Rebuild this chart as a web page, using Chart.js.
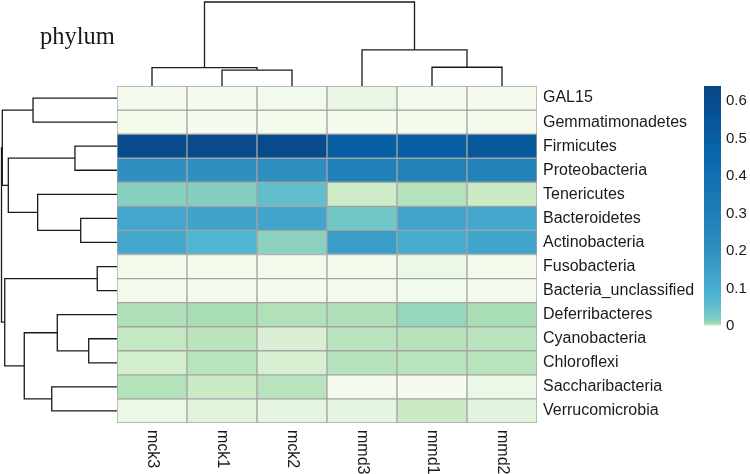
<!DOCTYPE html>
<html><head><meta charset="utf-8">
<script src="https://cdn.jsdelivr.net/npm/chart.js@4/dist/chart.umd.min.js"></script>
<style>
html,body{margin:0;padding:0;background:#fff;}
#wrap{position:relative;width:750px;height:474px;}
canvas{position:absolute;left:0;top:0;}
</style></head><body>
<div id="wrap"><canvas id="main" width="750" height="474"></canvas><canvas id="legend" width="750" height="474"></canvas></div>
<script>
// ---------- data ----------
const titleText = 'phylum';
const columns = ['mck3', 'mck1', 'mck2', 'mmd3', 'mmd1', 'mmd2'];
const rows = ['GAL15', 'Gemmatimonadetes', 'Firmicutes', 'Proteobacteria', 'Tenericutes',
  'Bacteroidetes', 'Actinobacteria', 'Fusobacteria', 'Bacteria_unclassified', 'Deferribacteres',
  'Cyanobacteria', 'Chloroflexi', 'Saccharibacteria', 'Verrucomicrobia'];

// relative abundance per sample (row order as above)
const mck3 = [0.0001, 0.0001, 0.600, 0.210, 0.016, 0.123, 0.120, 0.0001, 0.0001, 0.0043, 0.0027, 0.0016, 0.0040, 0.0004];
const mck1 = [0.0001, 0.00005, 0.610, 0.210, 0.017, 0.137, 0.078, 0.0001, 0.0001, 0.0050, 0.0033, 0.0037, 0.0020, 0.0008];
const mck2 = [0.0002, 0.0001, 0.600, 0.212, 0.053, 0.130, 0.015, 0.0002, 0.0001, 0.0042, 0.0012, 0.0013, 0.0037, 0.0006];
const mmd3 = [0.0005, 0.0001, 0.490, 0.290, 0.0018, 0.032, 0.160, 0.0002, 0.0001, 0.0043, 0.0037, 0.0039, 0.0001, 0.0006];
const mmd1 = [0.0001, 0.0001, 0.500, 0.280, 0.0040, 0.135, 0.105, 0.0004, 0.0002, 0.0110, 0.0039, 0.0037, 0.00005, 0.0022];
const mmd2 = [0.0001, 0.0001, 0.530, 0.280, 0.0020, 0.120, 0.135, 0.0001, 0.0001, 0.0050, 0.0037, 0.0037, 0.0004, 0.0007];

// column dendrogram (hclust style: negative = leaf, positive = earlier merge)
const colMergeA = [-2, -1, -5, -4, 2];
const colMergeB = [-3, 1, -6, 3, 4];
const colMergeH = [0.190, 0.218, 0.223, 0.429, 1.0];

// row dendrogram
const rowMergeA = [-8, -11, -6, -3, -10, -13, -5, -1, 5, 4, 1, 8, 12];
const rowMergeB = [-9, -12, -7, -4, 2, -14, 3, -2, 6, 7, 9, 10, 11];
const rowMergeH = [0.171, 0.245, 0.314, 0.364, 0.517, 0.565, 0.687, 0.727, 0.803, 0.941, 0.972, 0.993, 1.0];

// colour legend
const legendMax = 0.64;
const legendTicks = [0, 0.1, 0.2, 0.3, 0.4, 0.5, 0.6];

// colour map (value stops -> colours)
const cmapValues = [0, 0.0008, 0.002, 0.005, 0.02, 0.08, 0.22, 0.45, 0.66];
const cmapColors = ['#f7fcf0', '#e0f3db', '#ccebc5', '#a8ddb5', '#7bccc4', '#4eb3d3', '#2b8cbe', '#0868ac', '#084081'];

// ---------- helpers ----------
const sampleCols = [mck3, mck1, mck2, mmd3, mmd1, mmd2];
function hexToRgb(h) { return [1, 3, 5].map(i => parseInt(h.substr(i, 2), 16)); }
const cmapRgb = cmapColors.map(hexToRgb);
function colorFor(v) {
  if (v <= cmapValues[0]) return cmapColors[0];
  for (let k = 1; k < cmapValues.length; k++) {
    if (v <= cmapValues[k]) {
      const t = (v - cmapValues[k - 1]) / (cmapValues[k] - cmapValues[k - 1]);
      const a = cmapRgb[k - 1], b = cmapRgb[k];
      const c = a.map((x, i) => Math.round(x + (b[i] - x) * t));
      return `rgb(${c[0]},${c[1]},${c[2]})`;
    }
  }
  return cmapColors[cmapColors.length - 1];
}

function dendroSegments(A, B, H) {
  const pos = [], hgt = [];
  const nodePos = n => n < 0 ? (-n - 1) + 0.5 : pos[n - 1];
  const nodeH = n => n < 0 ? 0 : hgt[n - 1];
  const segs = [];
  for (let i = 0; i < A.length; i++) {
    const pa = nodePos(A[i]), pb = nodePos(B[i]);
    segs.push([[pa, nodeH(A[i])], [pa, H[i]], [pb, H[i]], [pb, nodeH(B[i])]]);
    pos.push((pa + pb) / 2);
    hgt.push(H[i]);
  }
  return segs;
}

const lineStyle = {
  type: 'line', borderColor: '#1a1a1a', borderWidth: 1.3, pointRadius: 0, fill: false,
  tension: 0, clip: false, borderJoinStyle: 'miter'
};

const datasets = [];
rows.forEach((r, i) => {
  datasets.push({
    type: 'bar', label: r, xAxisID: 'x', yAxisID: 'y',
    data: columns.map(() => [i, i + 1]),
    backgroundColor: columns.map((c, j) => colorFor(sampleCols[j][i])),
    borderColor: '#a4a4a4', borderWidth: 1, borderSkipped: false,
    grouped: false, barPercentage: 1, categoryPercentage: 1
  });
});
dendroSegments(colMergeA, colMergeB, colMergeH).forEach(seg => {
  datasets.push(Object.assign({}, lineStyle, {
    xAxisID: 'xl', yAxisID: 'yTop', data: seg.map(p => ({x: p[0], y: p[1]}))
  }));
});
dendroSegments(rowMergeA, rowMergeB, rowMergeH).forEach(seg => {
  datasets.push(Object.assign({}, lineStyle, {
    xAxisID: 'xLeft', yAxisID: 'y', data: seg.map(p => ({x: p[1], y: p[0]}))
  }));
});

const extras = {
  id: 'extras',
  afterDraw(chart) {
    const ctx = chart.ctx, xs = chart.scales.x, area = chart.chartArea;
    ctx.save();
    ctx.fillStyle = '#1a1a1a';
    ctx.font = '16px "Liberation Sans", Arial, sans-serif';
    ctx.textAlign = 'left';
    ctx.textBaseline = 'middle';
    columns.forEach((c, j) => {
      const x = xs.getPixelForValue(j);
      ctx.save();
      ctx.translate(x, area.bottom + 7);
      ctx.rotate(Math.PI / 2);
      ctx.fillText(c, 0, 0);
      ctx.restore();
    });
    ctx.font = '24.5px "Liberation Serif", "Times New Roman", serif';
    ctx.textBaseline = 'alphabetic';
    ctx.fillText(titleText, 40, 44);
    ctx.restore();
  }
};

new Chart(document.getElementById('main'), {
  type: 'bar',
  data: {labels: columns, datasets},
  plugins: [extras],
  options: {
    responsive: false, animation: false, events: [],
    layout: {padding: {left: 117, top: 86, right: 13, bottom: 51}},
    plugins: {legend: {display: false}, tooltip: {enabled: false}},
    scales: {
      x: {type: 'category', labels: columns, offset: true, display: false},
      y: {type: 'linear', min: 0, max: rows.length, reverse: true, offset: false, display: false},
      yr: {
        type: 'category', labels: rows, position: 'right', offset: true,
        grid: {display: false, drawTicks: false}, border: {display: false},
        ticks: {color: '#1a1a1a', font: {family: '"Liberation Sans", Arial, sans-serif', size: 16}, padding: 6, autoSkip: false},
        afterFit: s => { s.width = 200; }
      },
      xl: {type: 'linear', min: 0, max: columns.length, offset: false, display: false},
      yTop: {type: 'linear', min: -337 / 84, max: 0, offset: false, display: false},
      xLeft: {type: 'linear', min: -420 / 115.5, max: 0, reverse: true, offset: false, display: false}
    }
  }
});

new Chart(document.getElementById('legend'), {
  type: 'bar',
  data: {
    labels: [''],
    datasets: [{
      data: [[0, legendMax]],
      borderWidth: 0, barPercentage: 1, categoryPercentage: 1,
      backgroundColor: (c) => {
        const chart = c.chart;
        if (!chart.chartArea) return cmapColors[4];
        const ys = chart.scales.y;
        const g = chart.ctx.createLinearGradient(0, ys.getPixelForValue(0), 0, ys.getPixelForValue(legendMax));
        const n = 128;
        for (let k = 0; k <= n; k++) g.addColorStop(k / n, colorFor(legendMax * k / n));
        return g;
      }
    }]
  },
  options: {
    responsive: false, animation: false, events: [],
    layout: {padding: {left: 704, top: 86, right: 0, bottom: 148}},
    plugins: {legend: {display: false}, tooltip: {enabled: false}},
    scales: {
      x: {display: false},
      y: {
        position: 'right', min: 0, max: legendMax,
        grid: {display: false, drawTicks: false}, border: {display: false},
        afterBuildTicks: s => { s.ticks = legendTicks.map(v => ({value: v})); },
        ticks: {color: '#1a1a1a', font: {family: '"Liberation Sans", Arial, sans-serif', size: 15}, padding: 5,
          callback: v => v === 0 ? '0' : v.toFixed(1)},
        afterFit: s => { s.width = 29; }
      }
    }
  }
});
</script>
</body></html>
